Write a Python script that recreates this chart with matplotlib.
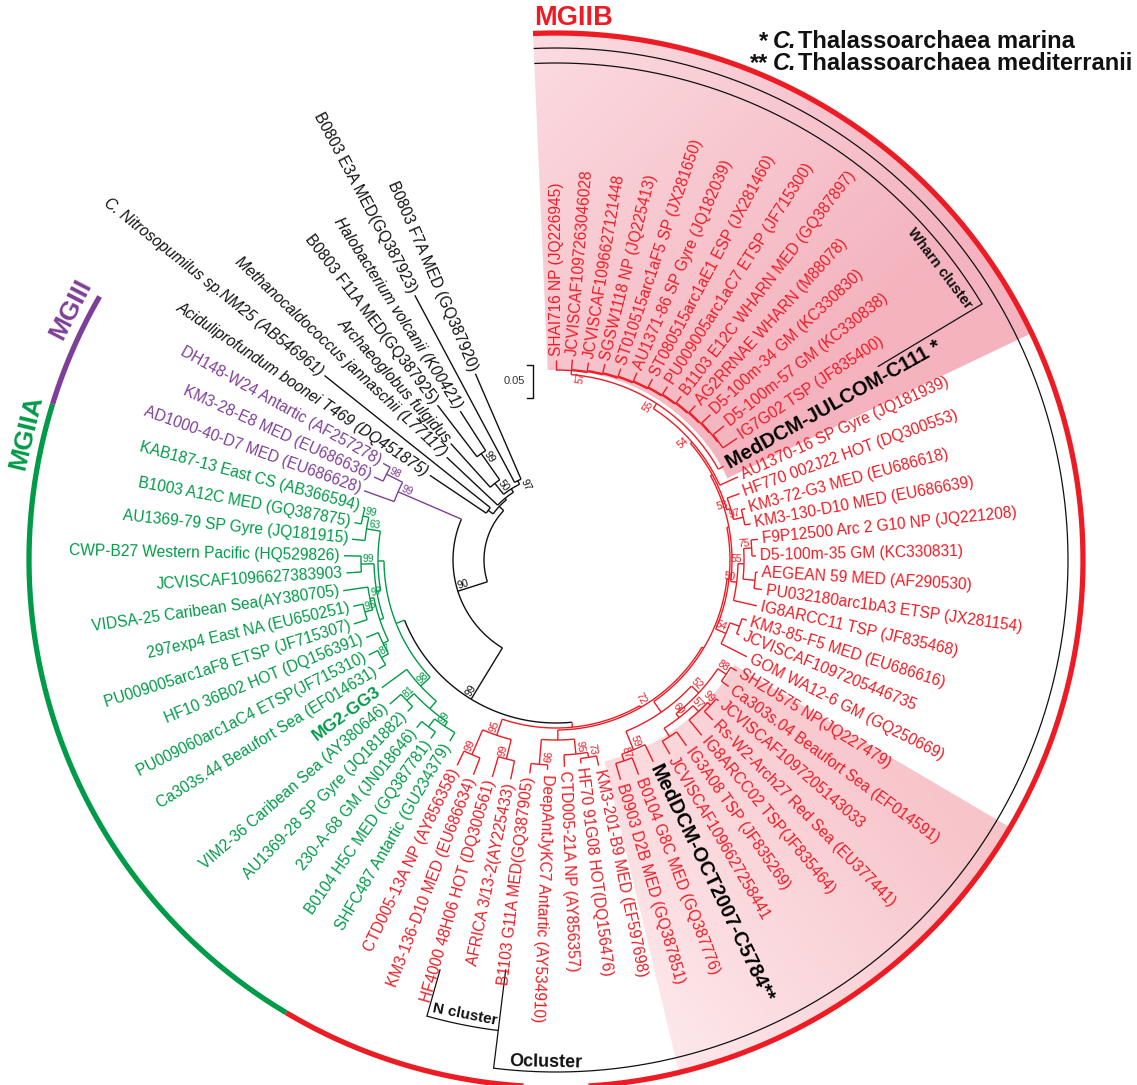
import re
import numpy as np
import matplotlib
matplotlib.use("Agg")
import matplotlib.pyplot as plt
from matplotlib.patches import Wedge
from matplotlib.colors import to_rgb

plt.rcParams['font.family'] = ['Liberation Sans', 'DejaVu Sans']

# ----------------------------------------------------------------- data
mg2b_labels = [
    "SHAI716 NP (JQ226945)", "JCVISCAF1097263046028", "JCVISCAF1096627121448",
    "SGSW1118 NP (JQ225413)", "ST010515arc1aF5 SP (JX281650)", "AU1371-86 SP Gyre (JQ182039)",
    "ST080515arc1aE1 ESP (JX281460)", "PU009005arc1aC7 ETSP (JF715300)",
    "B1103 E12C WHARN MED (GQ387897)", "AG2RRNAE WHARN (M88078)", "D5-100m-34 GM (KC330830)",
    "D5-100m-57 GM (KC330838)", "IG7G02 TSP (JF835400)", "MedDCM-JULCOM-C111 *",
    "AU1370-16 SP Gyre (JQ181939)", "HF770 002J22 HOT (DQ300553)", "KM3-72-G3 MED (EU686618)",
    "KM3-130-D10 MED (EU686639)", "F9P12500 Arc 2 G10 NP (JQ221208)", "D5-100m-35 GM (KC330831)",
    "AEGEAN 59 MED (AF290530)", "PU032180arc1bA3 ETSP (JX281154)", "IG8ARCC11 TSP (JF835468)",
    "KM3-85-F5 MED (EU686616)", "JCVISCAF1097205446735", "GOM WA12-6 GM (GQ250669)",
    "SHZU575 NP(JQ227479)", "Ca303s.04 Beaufort Sea (EF014591)", "JCVISCAF1097205143033",
    "Rs-W2-Arch27 Red Sea (EU377441)", "IG8ARCC02 TSP(JF835464)", "IG3A08 TSP (JF835269)",
    "JCVISCAF1096627258441", "MedDCM-OCT2007-C5784**", "B0104 G8C MED (GQ387776)",
    "B0903 D2B MED (GQ387851)", "KM3-201-B9 MED (EF597698)", "HF70 91G08 HOT(DQ156476)",
    "CTD005-21A NP (AY856357)", "DeepAntJyKC7 Antartic (AY534910)", "B1103 G11A MED(GQ387905)",
    "AFRICA 3/13-2(AY225433)", "HF4000 48H06 HOT (DQ300561)", "KM3-136-D10 MED (EU686634)",
    "CTD005-13A NP (AY856358)",
]
mg2a_labels = [
    "SHFC487 Antartic (GU234379)", "B0104 H5C MED (GQ387781)", "230-A-68 GM (JN018646)",
    "AU1369-28 SP Gyre (JQ181882)", "VIM2-36 Caribean Sea (AY380646)", "MG2-GG3",
    "Ca303s.44 Beaufort Sea (EF014631)", "PU009060arc1aC4 ETSP(JF715310)",
    "HF10 36B02 HOT (DQ156391)", "PU009005arc1aF8 ETSP (JF715307)", "297exp4 East NA (EU650251)",
    "VIDSA-25 Caribean Sea(AY380705)", "JCVISCAF1096627383903",
    "CWP-B27 Western Pacific (HQ529826)", "AU1369-79 SP Gyre (JQ181915)",
    "B1003 A12C MED (GQ387875)", "KAB187-13 East CS (AB366594)",
]
mg3_labels = ["AD1000-40-D7 MED (EU686628)", "KM3-28-E8 MED (EU686636)",
              "DH148-W24 Antartic (AF257278)"]
outgroup_labels = [
    "Aciduliprofundum boonei T469 (DQ451875)", "C. Nitrosopumilus sp.NM25 (AB546961)",
    "Methanocaldococcus jannaschii (L77117)", "Archaeoglobus fulgidus",
    "B0803 F11A MED(GQ387925)", "Halobacterium volcanii (K00421)",
    "B0803 E3A MED(GQ387923)", "B0803 F7A MED (GQ387920)",
]

# tree topology: branch lengths in substitutions/site, node labels = bootstrap
tree_outgroup = ("((g0:0.102,g1:0.318):0.009,(g2:0.105,((g3:0.0885,(g4:0.0975,g5:0.0705)99:0.048)50:0.021,"
                 "(g6:0.318,g7:0.1725)97:0.006):0.006):0.003)")
tree_mg3 = "(p0:0.048,(p1:0.015,p2:0.012)98:0.027)"
tree_mg2a_low = ("(a5:0.0465,((a4:0.0225,a3:0.0105)81:0.015,((a2:0.012,a1:0.012):0.015,a0:0.015)99:0.0075)"
                 ":0.015)98:0.0195")
tree_mg2a_up = ("(((((a6:0.012,a7:0.015)87:0.012,a8:0.0195):0.009,((a9:0.021,a10:0.015)95:0.012,a11:0.0375)97:0.006)"
                ":0.006,(a12:0.0225,a13:0.0255)99:0.0195):0.006,(a14:0.0195,(a15:0.0105,a16:0.003)99:0.009)63:0.021)"
                ":0.009")
tree_wharn = ("(b0:0.015,(b1:0.015,(b2:0.012,(b3:0.0135,(b4:0.012,(b5:0.0135,(b6:0.0135,(b7:0.0135,(b8:0.012,"
              "(b9:0.0135,(b10:0.018,(b11:0.021,b12:0.0255):0.0015):0.0015):0.0015):0.0015):0.0015):0.0015)"
              ":0.0015):0.0015):0.0015):0.0015)57:0.0015)")
tree_n_clade = "((b44:0.024,b43:0.027)99:0.0405,(b42:0.0315,b41:0.0285)99:0.03)95:0.0255"
tree_o_low = ("((b40:0.015,b39:0.0075)99:0.0375,(b38:0.018,(b37:0.0075,b36:0.015)73:0.0075)95:0.0225)"
              ":0.015")
tree_oct = ("(((b26:0.0105,b27:0.0135)88:0.015,(((b28:0.0045,b29:0.018)99:0.006,b30:0.03)57:0.012,"
            "(b31:0.0255,b32:0.0225):0.015)60:0.0075)52:0.015,(b33:0.0285,(b34:0.027,b35:0.0255)87:0.0105)"
            "59:0.03):0.0195")
tree_mid = "((b23:0.0075,b24:0.0045):0.015,b25:0.0435)54:0.0165"
tree_top = ("(((WHARN:0.006,b13:0.009)55:0.009,b14:0.03)54:0.003,(b15:0.0195,(b16:0.006,b17:0.009)97:0.015)"
            "53:0.006):0.003")
tree_upper_mid = ("(((b18:0.0105,b19:0.006)75:0.012,(b20:0.003,b21:0.012):0.018)55:0.009,b22:0.036)"
                  "50:0.009")

# ----------------------------------------------------------------- assemble
top = tree_top.replace("WHARN", tree_wharn)
upper = "(" + top + "," + tree_upper_mid + "):0.003"
rest = "(" + tree_mid + "," + upper + "):0.003"
o_up = "(" + tree_oct + "," + rest + "):0.003"
o_clade = "(" + tree_o_low + "," + o_up + ")72:0.003"
mg2b = "(" + tree_n_clade + "," + o_clade + ")"
mg2a = "(" + tree_mg2a_low + "," + tree_mg2a_up + ")"
mg2 = "(" + mg2a + ":0.0135," + mg2b + ":0.0075)"
newick = "(" + tree_outgroup + ":0.009,(" + tree_mg3 + "99:0.1035," + mg2 + "99:0.09)90:0.0465);"


def parse_newick(s):
    pos = 0

    def rd():
        nonlocal pos
        nd = {'ch': [], 'name': None, 'sup': None, 'bl': 0.0}
        if s[pos] == '(':
            pos += 1
            while True:
                nd['ch'].append(rd())
                c = s[pos]
                pos += 1
                if c == ')':
                    break
            m = re.match(r'\d+', s[pos:])
            if m:
                nd['sup'] = m.group(0)
                pos += m.end()
        else:
            m = re.match(r'[A-Za-z]\w*', s[pos:])
            nd['name'] = m.group(0)
            pos += m.end()
        m = re.match(r':([\d.]+)', s[pos:])
        if m:
            nd['bl'] = float(m.group(1))
            pos += m.end()
        return nd
    return rd()


root = parse_newick(newick)

leaf_ids = ([f"b{i}" for i in range(len(mg2b_labels))] + [f"a{i}" for i in range(len(mg2a_labels))] +
            [f"p{i}" for i in range(len(mg3_labels))] + [f"g{i}" for i in range(len(outgroup_labels))])
leaf_text = dict(zip(leaf_ids, mg2b_labels + mg2a_labels + mg3_labels + outgroup_labels))

# ----------------------------------------------------------------- layout
W, H = 1137, 1085
CX, CY = 556, 560
XL = (-CX, W - CX)
YL = (CY - H, CY)
STEP = 4.675          # degrees between tips
ROOT_R = 72.0         # px
PX_PER_UNIT = 666.7   # px per substitution/site
leaf_angle = {lid: 90 - i * STEP for i, lid in enumerate(leaf_ids)}

RED, GREEN, PURPLE, BLACK = '#ED1C24', '#009B48', '#7E3F98', '#111111'
PREFIX_COLOR = {'b': RED, 'a': GREEN, 'p': PURPLE, 'g': BLACK}


def layout(nd, r_parent):
    nd['r'] = r_parent + nd['bl'] * PX_PER_UNIT
    if nd['ch']:
        for c in nd['ch']:
            layout(c, nd['r'])
        angs = [c['th'] for c in nd['ch']]
        nd['th'] = (min(angs) + max(angs)) / 2
        nd['leaves'] = sum((c['leaves'] for c in nd['ch']), [])
    else:
        nd['th'] = leaf_angle[nd['name']]
        nd['leaves'] = [nd['name']]
    pre = {l[0] for l in nd['leaves']}
    nd['col'] = PREFIX_COLOR[pre.pop()] if len(pre) == 1 else BLACK


layout(root, ROOT_R)

fig = plt.figure(figsize=(W / 100, H / 100), dpi=100)
ax = fig.add_axes([0, 0, 1, 1])
ax.axis('off')


def pol(r, th):
    t = np.deg2rad(th)
    return r * np.cos(t), r * np.sin(t)


def arc(r, t1, t2, **kw):
    ts = np.linspace(t1, t2, max(2, int(abs(t2 - t1) * 4) + 2))
    x, y = pol(r, ts)
    ax.plot(x, y, solid_capstyle='butt', **kw)


def side(th):
    t = ((th + 180) % 360) - 180
    right = -95 <= t < 100
    rot = t if right else (t - 180 if t > 0 else t + 180)
    return right, rot


# ---- shaded wedges with soft gradients
def gradient_wedge(t1, t2, rin, rout, c0, c1, p0, p1):
    wedge = Wedge((0, 0), rout, t1, t2, width=rout - rin, facecolor='none', edgecolor='none')
    ax.add_patch(wedge)
    xs = np.linspace(XL[0], XL[1], 300)
    ys = np.linspace(YL[0], YL[1], 300)
    X, Y = np.meshgrid(xs, ys)
    d = np.array(p1) - np.array(p0)
    s = ((X - p0[0]) * d[0] + (Y - p0[1]) * d[1]) / (d @ d)
    s = np.clip(s, 0, 1)[..., None]
    img = (1 - s) * np.array(to_rgb(c0)) + s * np.array(to_rgb(c1))
    im = ax.imshow(img, extent=[XL[0], XL[1], YL[0], YL[1]], origin='lower', zorder=0,
                   interpolation='bilinear', aspect='auto')
    im.set_clip_path(wedge)


gradient_wedge(25.5, 92.5, 190, 527, '#fcdde2', '#f4b3be', pol(520, 95), pol(330, 35))
gradient_wedge(-76.5, -30.5, 207, 527, '#fde7ea', '#f7c4ca', pol(470, -78), pol(470, -32))

# ---- tree
LW = 1.0


def draw(nd, parent=None):
    col = nd['col']
    if parent is not None:
        x0, y0 = pol(parent['r'], nd['th'])
        x1, y1 = pol(nd['r'], nd['th'])
        ax.plot([x0, x1], [y0, y1], color=col, lw=LW, zorder=2, solid_capstyle='butt')
    if nd['ch']:
        angs = [c['th'] for c in nd['ch']]
        arc(nd['r'], min(angs), max(angs), color=col, lw=LW, zorder=2)
        for c in nd['ch']:
            draw(c, nd)
        if nd['sup'] is not None:
            right, rot = side(nd['th'])
            x, y = pol(nd['r'] - 1.5, nd['th'])
            ax.text(x, y, nd['sup'], rotation=rot, rotation_mode='anchor',
                    ha='right' if right else 'left', va='bottom', fontsize=7.5, color=col, zorder=3)
    else:
        lid = nd['name']
        right, rot = side(nd['th'])
        kw = dict(fontsize=11.2, color=nd['col'])
        if lid in ('b13', 'b33'):
            kw = dict(fontsize=14.5, color='black', fontweight='bold')
        elif lid == 'a5':
            kw = dict(fontsize=12.5, color=GREEN, fontweight='bold')
        elif lid in ('g0', 'g1', 'g2', 'g3', 'g5'):
            kw['fontstyle'] = 'italic'
        x, y = pol(nd['r'] + 4, nd['th'])
        ax.text(x, y, leaf_text[lid], rotation=rot, rotation_mode='anchor',
                ha='left' if right else 'right', va='center', zorder=3, **kw)


draw(root)

# ---- group arcs
arc(527, -120.8, 92.5, color=RED, lw=3.8, zorder=2)
arc(527, 162.8, 239.2, color=GREEN, lw=3.8, zorder=2)
arc(527, 150.0, 162.8, color=PURPLE, lw=3.8, zorder=2)


def label_at(r, th, s, rot, **kw):
    x, y = pol(r, th)
    ax.text(x, y, s, rotation=rot, rotation_mode='anchor', ha='center', va='center', **kw)


label_at(542, 88.2, "MGIIB", 0, fontsize=19.5, fontweight='bold', color=RED)
label_at(545, 166.5, "MGIIA", 76.5, fontsize=19, fontweight='bold', color=GREEN)
label_at(546, 152.7, "MGIII", 62.7, fontsize=19, fontweight='bold', color=PURPLE)

# ---- cluster brackets
arc(512, -97, 92.5, color=BLACK, lw=0.9)
x0, y0 = pol(413, -97); x1, y1 = pol(512, -97)
ax.plot([x0, x1], [y0, y1], color=BLACK, lw=0.9)
arc(497, 31, 92.5, color=BLACK, lw=0.9)
x0, y0 = pol(376, 31); x1, y1 = pol(497, 31)
ax.plot([x0, x1], [y0, y1], color=BLACK, lw=0.9)
arc(474, -105.8, -97, color=BLACK, lw=0.9)
x0, y0 = pol(426, -105.8); x1, y1 = pol(474, -105.8)
ax.plot([x0, x1], [y0, y1], color=BLACK, lw=0.9)

label_at(482, 37.2, "Wharn cluster", -52.8, fontsize=10.5, fontweight='bold', color=BLACK)
label_at(463, -101.3, "N cluster", -11.3, fontsize=11, fontweight='bold', color=BLACK)
label_at(502, -91.2, "Ocluster", -1.2, fontsize=13, fontweight='bold', color=BLACK)

# ---- scale bar (0.05 substitutions/site)
sb = 0.05 * PX_PER_UNIT
sx, sy = 533 - CX, CY - 398
ax.plot([sx - 6, sx, sx, sx - 6], [sy, sy, sy + sb, sy + sb], color=BLACK, lw=1.0)
ax.text(sx - 8, sy + sb / 2, "0.05", ha='right', va='center', fontsize=8, color='#333333')

# ---- legend
renderer = fig.canvas.get_renderer()
lx = 773 - CX
for yy, stars, rest_txt in [(CY - 42, "*", "Thalassoarchaea marina"),
                            (CY - 64, "**", "Thalassoarchaea mediterranii")]:
    ax.text(lx - 5, yy, stars, ha='right', va='center', fontsize=17, fontweight='bold', color=BLACK)
    t = ax.text(lx, yy, "C.", ha='left', va='center', fontsize=17, fontweight='bold',
                fontstyle='italic', color=BLACK)
    w = t.get_window_extent(renderer).width
    ax.text(lx + w + 1, yy, rest_txt, ha='left', va='center', fontsize=17, fontweight='bold', color=BLACK)

ax.set_xlim(*XL)
ax.set_ylim(*YL)
fig.savefig("out.png", dpi=100)
